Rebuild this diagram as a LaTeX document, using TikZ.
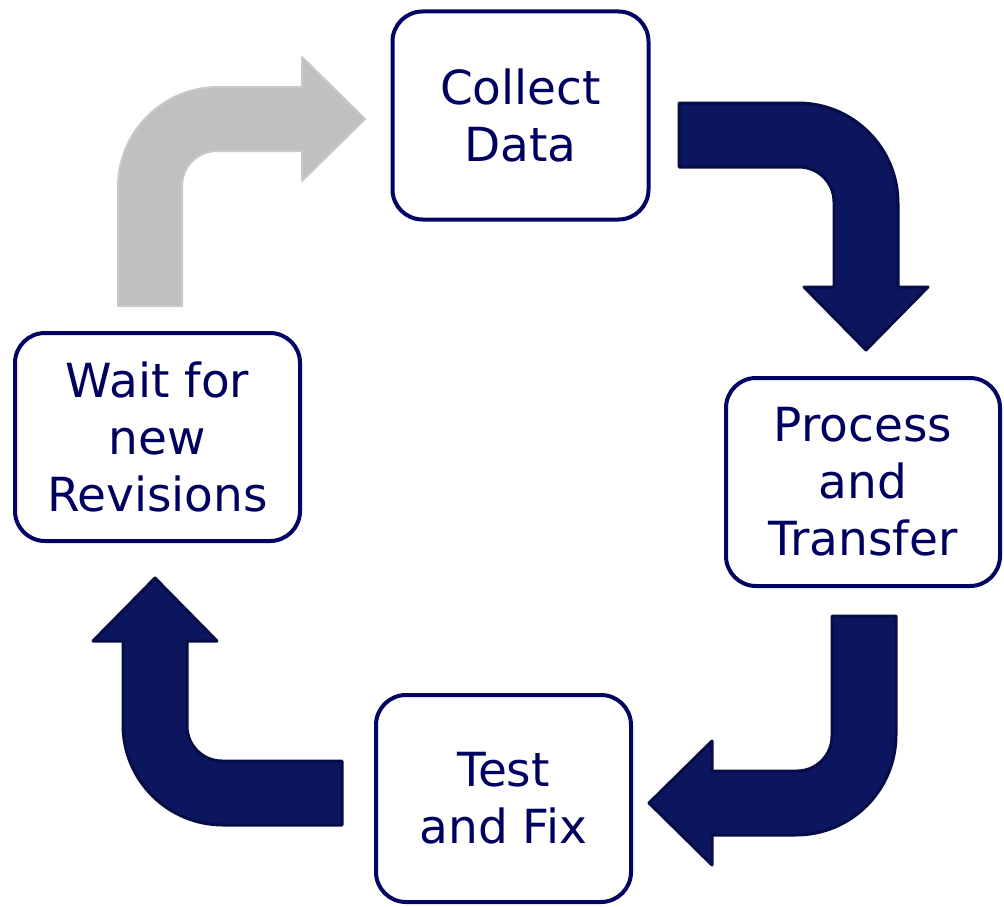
\documentclass[tikz,border=0pt]{standalone}
\usepackage{fontspec}
\setmainfont{DejaVu Sans}
\definecolor{boxline}{RGB}{4,4,100}
\definecolor{boxtext}{RGB}{0,0,96}
\definecolor{navyfill}{RGB}{12,22,94}
\definecolor{navyline}{RGB}{6,12,70}
\definecolor{grayfill}{RGB}{192,192,192}
\definecolor{grayline}{RGB}{201,201,201}
\tikzset{
  stage/.style={draw=boxline, line width=4pt, fill=white, rounded corners=30pt,
    align=center, inner sep=0pt, text=boxtext,
    font=\fontsize{47}{57}\selectfont},
  darkarrow/.style={fill=navyfill, draw=navyline, line width=3pt, line join=round},
  lightarrow/.style={fill=grayfill, draw=grayline, line width=2pt, line join=round},
  barrow/.pic={
    \path[pic actions] (0,-219) -- (0,-100)
      .. controls (0,-44.8) and (44.8,0) .. (100,0)
      -- (184,0) -- (184,30) -- (247,-32) -- (184,-94) -- (184,-64)
      -- (99,-64) .. controls (79.7,-64) and (64,-79.7) .. (64,-99)
      -- (64,-219) -- cycle;
  }
}
\begin{document}
\begin{tikzpicture}[x=1pt,y=1pt]
\useasboundingbox (0,0) rectangle (1004,-907);
\node[stage, minimum width=256pt, minimum height=208pt] (collect) at (520.5,-115.5) {Collect\\Data};
\node[stage, minimum width=285pt, minimum height=208pt] (wait) at (157.5,-437) {Wait for\\new\\Revisions};
\node[stage, minimum width=274pt, minimum height=208pt] (process) at (863,-482) {Process\\and\\Transfer};
\node[stage, minimum width=255pt, minimum height=207pt] (test) at (503.5,-798.5) {Test\\and Fix};
\coordinate (c1) at (118,-87);
\coordinate (c2) at (898,-103);
\coordinate (c3) at (896,-835);
\coordinate (c4) at (123,-825);
\pic[lightarrow] at (c1) {barrow};
\pic[darkarrow, rotate=-90] at (c2) {barrow};
\pic[darkarrow, rotate=180] at (c3) {barrow};
\pic[darkarrow, rotate=90] at (c4) {barrow};
\end{tikzpicture}
\end{document}
